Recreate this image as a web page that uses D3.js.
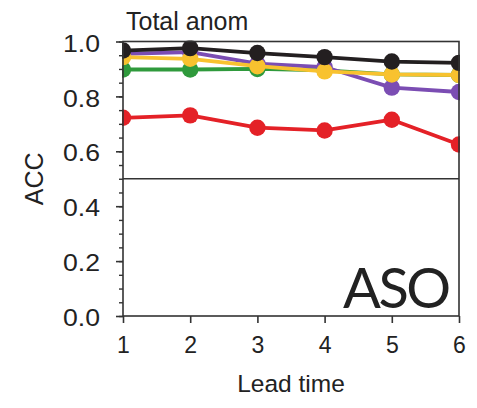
<!DOCTYPE html>
<html>
<head>
<meta charset="utf-8">
<script src="https://cdn.jsdelivr.net/npm/d3@7"></script>
<style>
  html, body { margin: 0; padding: 0; background: #fff; }
  svg { display: block; }
  text { font-family: "Liberation Sans", Arial, sans-serif; fill: #222; }
</style>
</head>
<body>
<svg id="chart" width="477" height="408"></svg>
<script>
// Lead times (months)
const leadTimes = [1, 2, 3, 4, 5, 6];

// Anomaly correlation coefficient per model, by lead time
const greenACC  = [0.898, 0.898, 0.900, 0.895, 0.880, 0.878];
const purpleACC = [0.955, 0.961, 0.919, 0.907, 0.832, 0.816];
const yellowACC = [0.943, 0.937, 0.910, 0.891, 0.880, 0.878];
const blackACC  = [0.967, 0.976, 0.958, 0.943, 0.927, 0.922];
const redACC    = [0.722, 0.731, 0.686, 0.676, 0.715, 0.625];

const yTicks = [0.0, 0.2, 0.4, 0.6, 0.8, 1.0];

// Draw order (later drawn on top)
const seriesList = [
  { values: redACC,    color: "#e42127" },
  { values: greenACC,  color: "#2f9a3c" },
  { values: purpleACC, color: "#7b4db3" },
  { values: yellowACC, color: "#f8c22f" },
  { values: blackACC,  color: "#231f20" }
];

const svg = d3.select("#chart");
const plotLeft = 123, plotRight = 459, plotTop = 41.5, plotBottom = 316;

const x = d3.scaleLinear().domain([1, 6]).range([plotLeft, plotRight]);
const y = d3.scaleLinear().domain([0, 1]).range([plotBottom, plotTop]);

// clip for data marks
svg.append("defs").append("clipPath").attr("id", "plotClip")
  .append("rect")
  .attr("x", plotLeft - 1).attr("y", plotTop - 1)
  .attr("width", plotRight - plotLeft + 2).attr("height", plotBottom - plotTop + 2);

// reference line at 0.5
svg.append("line")
  .attr("x1", plotLeft).attr("x2", plotRight)
  .attr("y1", y(0.5)).attr("y2", y(0.5))
  .attr("stroke", "#333").attr("stroke-width", 1.4);

const plot = svg.append("g").attr("clip-path", "url(#plotClip)");
const line = d3.line().x((d, i) => x(leadTimes[i])).y(d => y(d));

seriesList.forEach(s => {
  const g = plot.append("g");
  g.append("path")
    .datum(s.values)
    .attr("d", line)
    .attr("fill", "none")
    .attr("stroke", s.color)
    .attr("stroke-width", 3.8)
    .attr("stroke-linejoin", "round");
  g.selectAll("circle")
    .data(s.values)
    .join("circle")
    .attr("cx", (d, i) => x(leadTimes[i]))
    .attr("cy", d => y(d))
    .attr("r", 8.2)
    .attr("fill", s.color);
});

// frame
svg.append("rect")
  .attr("x", plotLeft).attr("y", plotTop)
  .attr("width", plotRight - plotLeft).attr("height", plotBottom - plotTop)
  .attr("fill", "none").attr("stroke", "#333").attr("stroke-width", 1.6);

// y axis: major + minor ticks
const yAxis = d3.axisLeft(y).tickValues(yTicks).tickFormat(d3.format(".1f"))
  .tickSize(7).tickPadding(16);
const yMinor = d3.axisLeft(y).tickValues(d3.range(0, 1.0001, 0.05))
  .tickSize(4).tickFormat("");

const gyMinor = svg.append("g").attr("transform", `translate(${plotLeft},0)`).call(yMinor);
gyMinor.select(".domain").remove();
gyMinor.selectAll("line").attr("stroke", "#333").attr("stroke-width", 1.4);

const gy = svg.append("g").attr("transform", `translate(${plotLeft},0)`).call(yAxis);
gy.select(".domain").remove();
gy.selectAll("line").attr("stroke", "#333").attr("stroke-width", 1.6);
gy.selectAll("text")
  .attr("font-size", 23).attr("dy", "0.42em")
  .attr("textLength", 37).attr("lengthAdjust", "spacingAndGlyphs")
  .style("font-family", "'Liberation Sans', Arial, sans-serif").attr("fill", "#222");

// x axis
const xAxis = d3.axisBottom(x).tickValues(leadTimes).tickFormat(d3.format("d"))
  .tickSize(7).tickPadding(14);
const gx = svg.append("g").attr("transform", `translate(0,${plotBottom})`).call(xAxis);
gx.select(".domain").remove();
gx.selectAll("line").attr("stroke", "#333").attr("stroke-width", 1.6);
gx.selectAll("text")
  .attr("font-size", 23)
  .style("font-family", "'Liberation Sans', Arial, sans-serif").attr("fill", "#222");

// titles and labels
svg.append("text").attr("x", 126).attr("y", 30)
  .attr("font-size", 25).text("Total anom");

svg.append("text").attr("x", 291).attr("y", 392)
  .attr("text-anchor", "middle").attr("font-size", 24.5).text("Lead time");

svg.append("text")
  .attr("transform", `translate(43,${y(0.5)}) rotate(-90)`)
  .attr("text-anchor", "middle").attr("font-size", 25).text("ACC");

svg.append("text").attr("x", 343).attr("y", 308)
  .attr("font-size", 56)
  .style("font-family", "Lato, sans-serif")
  .style("letter-spacing", "-2.5px")
  .attr("fill", "#1a1a1a")
  .text("ASO");
</script>
</body>
</html>
